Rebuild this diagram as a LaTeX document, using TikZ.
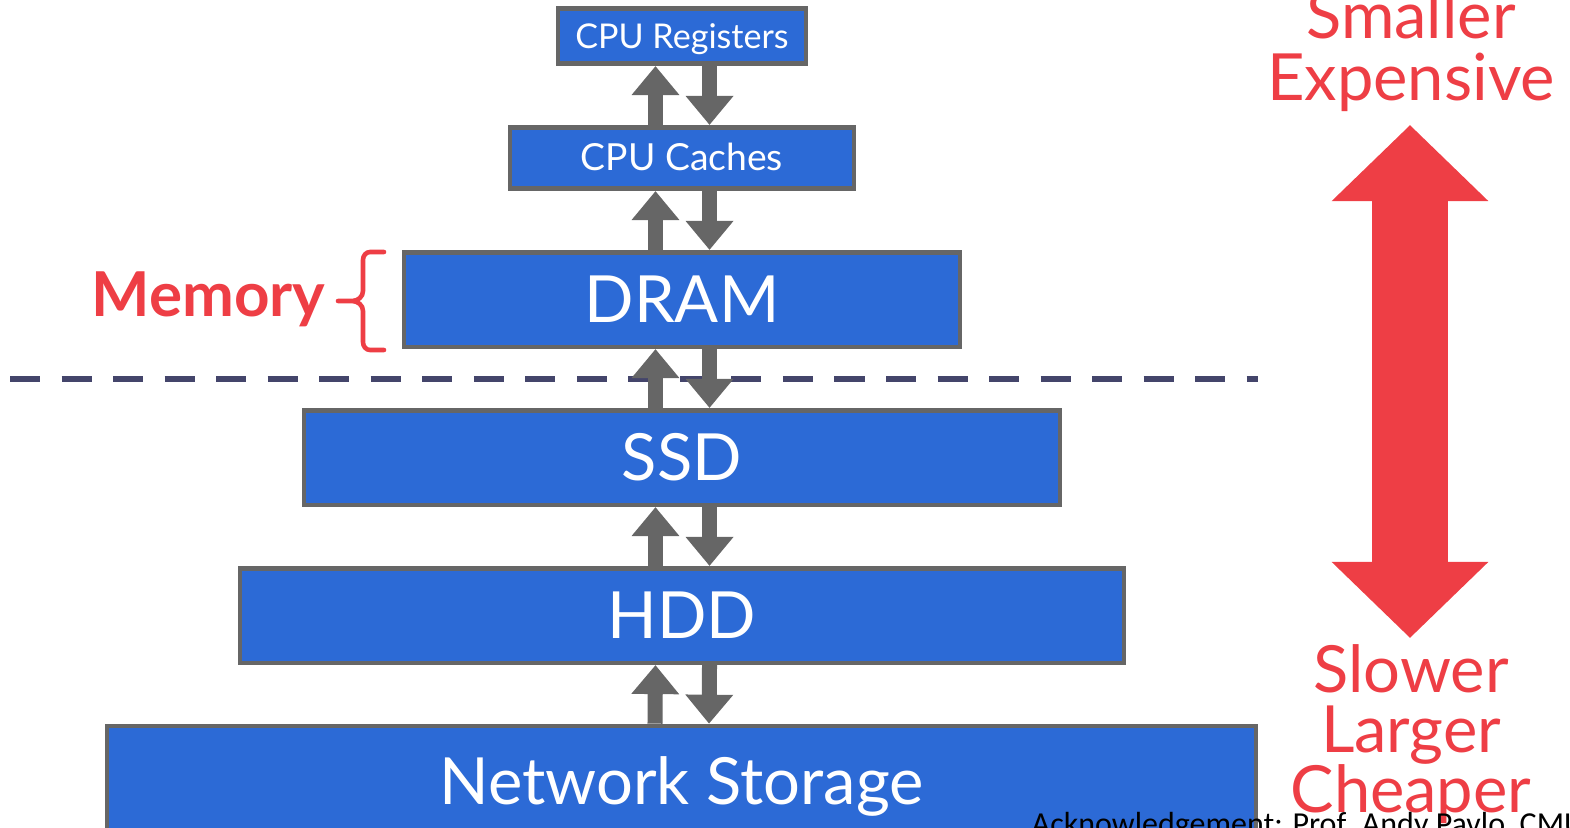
\documentclass[tikz,border=0pt]{standalone}
\usepackage{fontspec}
\setmainfont{Lato}
\newfontfamily\ackfont{Carlito}
\usetikzlibrary{arrows.meta}

\definecolor{tierblue}{RGB}{44,106,214}
\definecolor{tiergray}{RGB}{102,102,102}
\definecolor{hotred}{RGB}{238,62,69}
\definecolor{dashblue}{RGB}{68,69,107}

\tikzset{
  tier/.style={draw=tiergray, fill=tierblue, line width=1.3pt, text=white, inner sep=0pt, text depth=0pt},
  smalltier/.style={tier, font=\fontsize{9.7}{12}\selectfont, text height=7pt},
  bigtier/.style={tier, font=\fontsize{18.5}{22}\selectfont, text height=13.3pt},
  xfer/.style={draw=tiergray, line width=0.15cm, -{Triangle[width=0.46cm,length=0.29cm]}},
  costarrow/.style={draw=hotred, line width=0.76cm, {Triangle[width=1.52cm,length=0.76cm]}-{Triangle[width=1.52cm,length=0.76cm]}},
  redword/.style={text=hotred, inner sep=0pt, anchor=base, font=\fontsize{18.5}{22}\selectfont},
  divider/.style={draw=dashblue, line width=0.06cm, dash pattern=on 0.3cm off 0.215cm}
}

\begin{document}
\begin{tikzpicture}[x=0.01cm, y=-0.01cm]
\useasboundingbox (0,0) rectangle (1570,827);

% the hierarchy
\node[smalltier, minimum width=2.475cm, minimum height=0.555cm] (reg) at (682,36) {CPU Registers};
\node[smalltier, font=\fontsize{10.6}{12}\selectfont, minimum width=3.435cm, minimum height=0.615cm] (cache) at (682,158) {CPU Caches};
\node[bigtier, minimum width=5.555cm, minimum height=0.945cm] (dram) at (682,299.5) {DRAM};
\node[bigtier, minimum width=7.555cm, minimum height=0.945cm] (ssd) at (682,457.5) {SSD};
\node[bigtier, minimum width=8.835cm, minimum height=0.945cm] (hdd) at (682,615.5) {HDD};
\node[bigtier, minimum width=11.485cm, minimum height=1.1cm] (net) at (681.5,781) {Network Storage};

% volatile / non-volatile split
\draw[divider] (10,379) -- (1258,379);

% data moving up and down
\draw[xfer] ([xshift=-0.265cm]cache.north) -- ([xshift=-0.265cm]reg.south);
\draw[xfer] ([xshift=0.275cm]reg.south) -- ([xshift=0.275cm]cache.north);
\draw[xfer] ([xshift=-0.265cm]dram.north) -- ([xshift=-0.265cm]cache.south);
\draw[xfer] ([xshift=0.275cm]cache.south) -- ([xshift=0.275cm]dram.north);
\draw[xfer] ([xshift=-0.265cm]ssd.north) -- ([xshift=-0.265cm]dram.south);
\draw[xfer] ([xshift=0.275cm]dram.south) -- ([xshift=0.275cm]ssd.north);
\draw[xfer] ([xshift=-0.265cm]hdd.north) -- ([xshift=-0.265cm]ssd.south);
\draw[xfer] ([xshift=0.275cm]ssd.south) -- ([xshift=0.275cm]hdd.north);
\draw[xfer] ([xshift=-0.265cm]net.north) -- ([xshift=-0.265cm]hdd.south);
\draw[xfer] ([xshift=0.275cm]hdd.south) -- ([xshift=0.275cm]net.north);

% memory brace
\node[text=hotred, inner sep=0pt, anchor=base east, font=\fontsize{17.6}{20}\selectfont\bfseries] (mem) at (326,316) {Memory};
\draw[hotred, line width=1.3pt, line cap=round]
  (384,252) -- (370,252) to[out=180,in=90] (363,260) -- (363,291) to[out=-90,in=0] (352,301) -- (338,301)
  (352,301) to[out=0,in=90] (363,311) -- (363,342) to[out=-90,in=180] (370,350) -- (384,350);

% faster vs cheaper
\coordinate (fast) at (1410,125);
\coordinate (slow) at (1410,638);
\draw[costarrow] (fast) -- (slow);
\node[redword] (smaller) at (1411,38) {Smaller};
\node[redword] (expensive) at (1411,100) {Expensive};
\node[redword] (slower) at (1411,692) {Slower};
\node[redword] (larger) at (1411,752) {Larger};
\node[redword] (cheaper) at (1411,812) {Cheaper};

\node[anchor=base west, inner sep=0pt, font=\ackfont\fontsize{9.1}{11}\selectfont] (ack) at (1031,834) {Acknowledgement: Prof. Andy Pavlo, CMU};
\end{tikzpicture}
\end{document}
